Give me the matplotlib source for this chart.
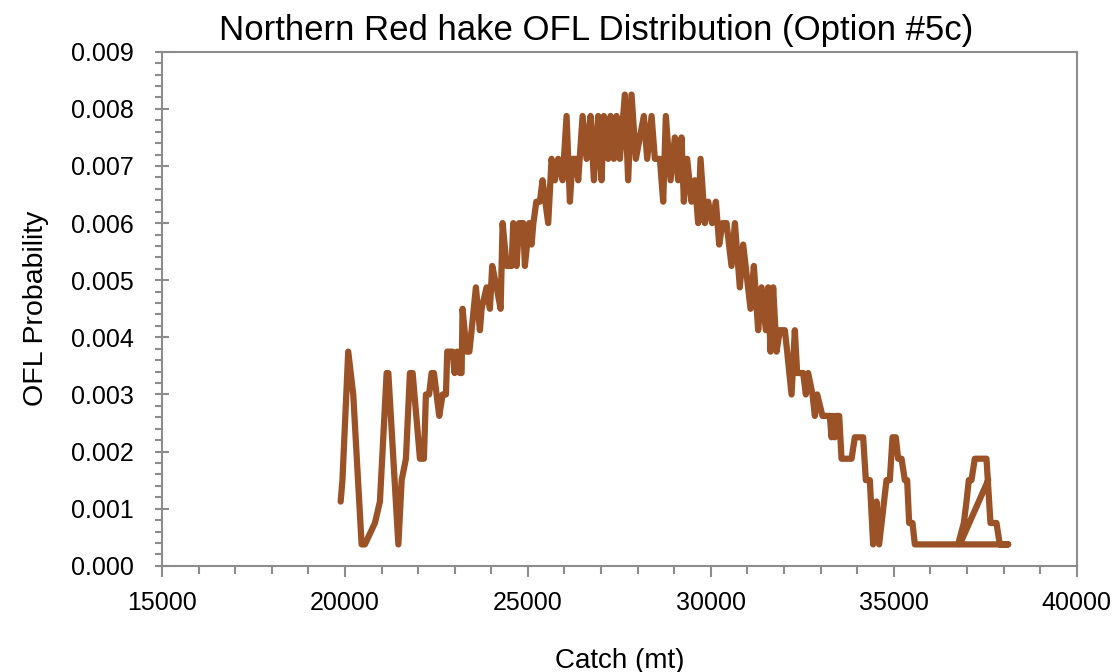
import matplotlib.pyplot as plt
from matplotlib.ticker import MultipleLocator, FormatStrFormatter

plt.rcParams['font.family'] = ['Liberation Sans Narrow', 'Liberation Sans', 'DejaVu Sans']

# Catch (mt) and OFL probability, in the order the points are joined
catch = [19883, 19932, 20090, 20227, 20456, 20546, 20820, 20956, 21140, 21186,
         21460, 21550, 21667, 21776, 21850, 22050, 22158, 22213, 22300, 22368,
         22432, 22577, 22669, 22760, 22796, 22942, 22997, 23070, 23142, 23188,
         23215, 23325, 23400, 23462, 23579, 23689, 23735, 23872, 23962, 24025,
         24145, 24254, 24309, 24418, 24555, 24600, 24690, 24760, 24870, 24918,
         25036, 25100, 25150, 25230, 25328, 25400, 25555, 25647, 25738, 25828,
         25948, 26057, 26148, 26221, 26311, 26375, 26495, 26604, 26713, 26803,
         26921, 27013, 27076, 27194, 27259, 27350, 27423, 27514, 27650, 27740,
         27832, 27950, 28060, 28169, 28260, 28380, 28470, 28607, 28697, 28770,
         28899, 29016, 29107, 29199, 29262, 29352, 29472, 29563, 29653, 29718,
         29836, 29927, 30036, 30137, 30228, 30319, 30428, 30565, 30656, 30792,
         30883, 31084, 31175, 31293, 31385, 31503, 31566, 31631, 31703, 31795,
         31885, 32022, 32085, 32205, 32295, 32358, 32522, 32596, 32658, 32778,
         32842, 32905, 33050, 33251, 33297, 33342, 33388, 33434, 33507, 33571,
         33845, 33934, 34162, 34235, 34344, 34435, 34526, 34598, 34800, 34891,
         34964, 35055, 35118, 35211, 35301, 35364, 35419, 35510, 35574, 36757,
         36913, 36986, 37049, 37122, 37213, 37532, 37641, 37805, 37896, 38124,
         36803, 37580]
prob = [0.001125, 0.0015, 0.00375, 0.003, 0.000375, 0.000375, 0.00075, 0.001125, 0.003375, 0.003375,
        0.000375, 0.0015, 0.001875, 0.003375, 0.003375, 0.001875, 0.001875, 0.003, 0.003, 0.003375,
        0.003375, 0.002625, 0.003, 0.003, 0.00375, 0.00375, 0.003375, 0.00375, 0.003375, 0.003375,
        0.0045, 0.00375, 0.00375, 0.004125, 0.004875, 0.004125, 0.0045, 0.004875, 0.0045, 0.00525,
        0.004875, 0.0045, 0.006, 0.00525, 0.00525, 0.006, 0.00525, 0.006, 0.006, 0.00525,
        0.006, 0.005625, 0.006, 0.006375, 0.006375, 0.00675, 0.006, 0.007125, 0.00675, 0.007125,
        0.00675, 0.007875, 0.006375, 0.007125, 0.007125, 0.00675, 0.007875, 0.007125, 0.007875, 0.00675,
        0.007875, 0.00675, 0.007875, 0.007125, 0.007875, 0.007125, 0.007875, 0.007125, 0.00825, 0.00675,
        0.00825, 0.007125, 0.0075, 0.007875, 0.007125, 0.007875, 0.007125, 0.007125, 0.006375, 0.007875,
        0.00675, 0.0075, 0.00675, 0.0075, 0.006375, 0.007125, 0.006375, 0.00675, 0.006, 0.007125,
        0.006, 0.006375, 0.006, 0.006375, 0.005625, 0.006, 0.006, 0.00525, 0.006, 0.004875,
        0.005625, 0.0045, 0.00525, 0.004125, 0.004875, 0.004125, 0.004875, 0.00375, 0.004875, 0.00375,
        0.004125, 0.004125, 0.00375, 0.003, 0.004125, 0.003375, 0.003375, 0.003, 0.003375, 0.003,
        0.002625, 0.003, 0.002625, 0.002625, 0.00225, 0.002625, 0.00225, 0.002625, 0.002625, 0.001875,
        0.001875, 0.00225, 0.00225, 0.0015, 0.0015, 0.000375, 0.001125, 0.000375, 0.0015, 0.0015,
        0.00225, 0.00225, 0.001875, 0.001875, 0.0015, 0.0015, 0.00075, 0.00075, 0.000375, 0.000375,
        0.00075, 0.001125, 0.0015, 0.0015, 0.001875, 0.001875, 0.00075, 0.00075, 0.000375, 0.000375,
        0.000375, 0.0015]

fig = plt.figure(figsize=(11.17, 6.72), dpi=100)
ax = fig.add_axes([0.145, 0.158, 0.819, 0.765])
ax.plot(catch, prob, color='#9C5227', lw=4.5, solid_joinstyle='round', solid_capstyle='round')

ax.set_xlim(15000, 40000)
ax.set_ylim(0, 0.009)
ax.xaxis.set_major_locator(MultipleLocator(5000))
ax.xaxis.set_minor_locator(MultipleLocator(1000))
ax.yaxis.set_major_locator(MultipleLocator(0.001))
ax.yaxis.set_minor_locator(MultipleLocator(0.0002))
ax.yaxis.set_major_formatter(FormatStrFormatter('%.3f'))

for s in ax.spines.values():
    s.set_color('#8c8c8c')
    s.set_linewidth(1.5)
ax.tick_params(axis='x', which='major', direction='out', length=8, width=1.5, color='#8c8c8c', labelsize=18, pad=10)
ax.tick_params(axis='x', which='minor', direction='out', length=6, width=1.5, color='#8c8c8c')
ax.tick_params(axis='y', which='major', direction='inout', length=10, width=1.5, color='#8c8c8c', labelsize=18, pad=15)
ax.tick_params(axis='y', which='minor', direction='out', length=5, width=1.5, color='#8c8c8c')

ax.set_xlabel('Catch (mt)', fontsize=20, labelpad=24)
ax.set_ylabel('OFL Probability', fontsize=20.5, labelpad=16)
fig.text(0.534, 0.955, 'Northern Red hake OFL Distribution (Option #5c)', fontsize=25, ha='center', va='center')

fig.savefig('out.png', dpi=100)
